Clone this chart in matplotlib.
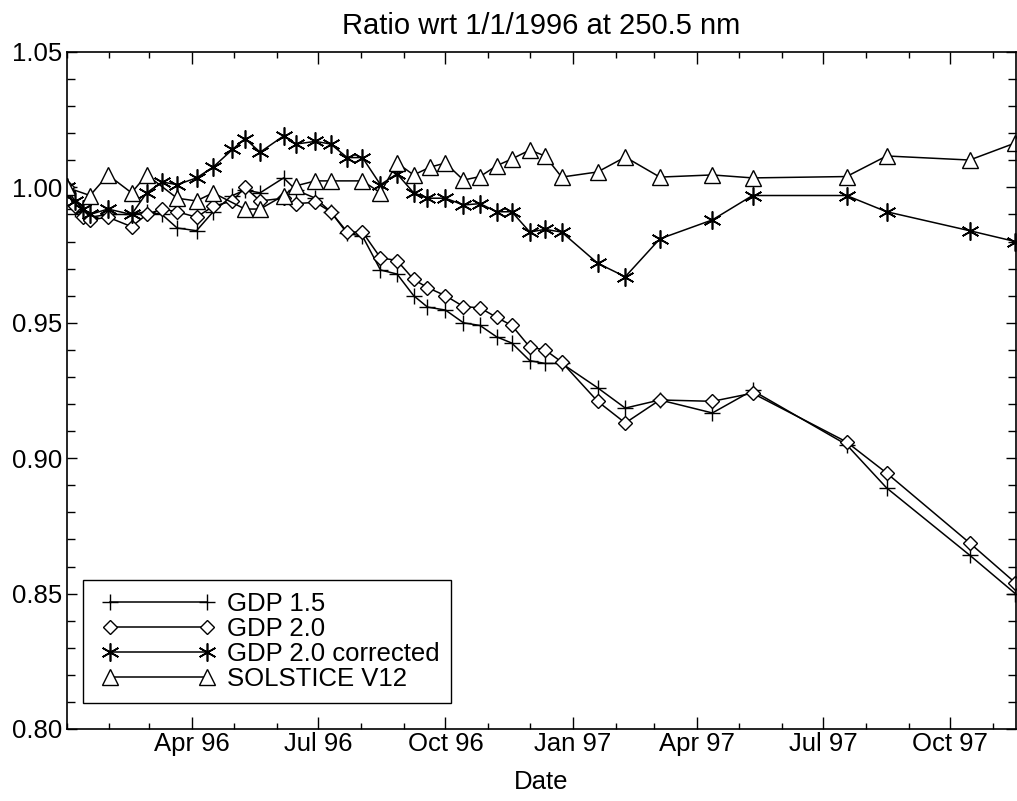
import matplotlib
matplotlib.use('Agg')
import matplotlib.pyplot as plt
import matplotlib.dates as mdates
from matplotlib.ticker import MultipleLocator, FormatStrFormatter
from matplotlib.lines import Line2D
from matplotlib.legend_handler import HandlerLine2D
import numpy as np

plt.rcParams['font.family'] = ['Liberation Sans', 'DejaVu Sans']

# ---------------- data ----------------
gdp_dates = ['1996-01-01', '1996-01-07', '1996-01-13', '1996-01-18', '1996-01-31',
             '1996-02-17', '1996-02-28', '1996-03-10', '1996-03-21', '1996-04-04',
             '1996-04-16', '1996-04-30', '1996-05-09', '1996-05-20', '1996-06-06',
             '1996-06-15', '1996-06-29', '1996-07-10', '1996-07-22', '1996-08-02',
             '1996-08-15', '1996-08-27', '1996-09-08', '1996-09-18', '1996-10-01',
             '1996-10-14', '1996-10-26', '1996-11-07', '1996-11-18', '1996-12-01',
             '1996-12-12', '1996-12-24', '1997-01-19', '1997-02-08', '1997-03-05',
             '1997-04-12', '1997-05-11', '1997-07-18', '1997-08-16', '1997-10-15',
             '1997-11-17']

gdp15 = [1.000, 0.992, 0.990, 0.989, 0.990, 0.990, 0.991, 0.990, 0.985, 0.984,
         0.991, 0.997, 0.999, 0.998, 1.0035, 0.999, 0.996, 0.991, 0.983, 0.982,
         0.9695, 0.968, 0.960, 0.9558, 0.9547, 0.950, 0.949, 0.9448, 0.9425, 0.936,
         0.935, 0.935, 0.926, 0.9185, 0.9215, 0.9167, 0.925, 0.905, 0.889, 0.8642,
         0.850]

gdp20 = [1.000, 0.993, 0.989, 0.988, 0.989, 0.9855, 0.990, 0.992, 0.991, 0.989,
         0.993, 0.995, 1.000, 0.995, 0.996, 0.994, 0.9945, 0.991, 0.9835, 0.9835,
         0.974, 0.973, 0.966, 0.963, 0.960, 0.956, 0.9555, 0.952, 0.949, 0.941,
         0.940, 0.9355, 0.921, 0.913, 0.9215, 0.921, 0.924, 0.906, 0.8945, 0.8687,
         0.854]

gdp20_corr = [1.000, 0.995, 0.992, 0.990, 0.992, 0.990, 0.998, 1.002, 1.001, 1.0035,
              1.0075, 1.014, 1.018, 1.013, 1.019, 1.016, 1.017, 1.016, 1.011, 1.011,
              1.001, 1.005, 0.998, 0.996, 0.996, 0.9935, 0.994, 0.991, 0.991, 0.9835,
              0.9845, 0.9835, 0.972, 0.967, 0.981, 0.988, 0.997, 0.997, 0.991, 0.984,
              0.980]

sol_dates = ['1996-01-01', '1996-01-18', '1996-01-31', '1996-02-17', '1996-02-28',
             '1996-03-21', '1996-04-04', '1996-04-16', '1996-05-09', '1996-05-20',
             '1996-06-06', '1996-06-15', '1996-06-29', '1996-07-10', '1996-08-02',
             '1996-08-15', '1996-08-27', '1996-09-08', '1996-09-20', '1996-10-01',
             '1996-10-14', '1996-10-26', '1996-11-07', '1996-11-18', '1996-12-01',
             '1996-12-12', '1996-12-24', '1997-01-19', '1997-02-08', '1997-03-05',
             '1997-04-12', '1997-05-11', '1997-07-18', '1997-08-16', '1997-10-15',
             '1997-11-17']

solstice = [1.000, 0.997, 1.0046, 0.998, 1.0046, 0.996, 0.995, 0.998, 0.992, 0.992,
            0.997, 1.0006, 1.0024, 1.0024, 1.0024, 0.998, 1.009, 1.0046, 1.0075, 1.009,
            1.0027, 1.004, 1.008, 1.0105, 1.0138, 1.0116, 1.0038, 1.0057, 1.0112, 1.0038,
            1.0046, 1.0035, 1.004, 1.0116, 1.0101, 1.0164]

tick_dates = ['1996-04-01', '1996-07-01', '1996-10-01', '1997-01-01',
              '1997-04-01', '1997-07-01', '1997-10-01']
tick_labels = ['Apr 96', 'Jul 96', 'Oct 96', 'Jan 97', 'Apr 97', 'Jul 97', 'Oct 97']

series_names = ['GDP 1.5', 'GDP 2.0', 'GDP 2.0 corrected', 'SOLSTICE V12']

# ---------------- plot ----------------
gd = np.array(gdp_dates, dtype='datetime64[D]')
sd = np.array(sol_dates, dtype='datetime64[D]')

FS = 18.5

fig = plt.figure(figsize=(10.17, 8.01), dpi=100)
ax = fig.add_axes([0.0654, 0.0899, 0.9336, 0.8452])

lw = 1.1
ax.plot(gd, gdp15, color='black', lw=lw, marker='+', ms=12, mew=1.0,
        label=series_names[0])
ax.plot(gd, gdp20, color='black', lw=lw, marker='D', ms=7, mew=1.0,
        mfc='white', mec='black', label=series_names[1])
ax.plot(gd, gdp20_corr, color='black', lw=lw, marker=(6, 2, 0), ms=13, mew=1.2,
        label=series_names[2])
ax.plot(sd, solstice, color='black', lw=lw, marker='^', ms=11, mew=1.0,
        mfc='white', mec='black', label=series_names[3])

ax.set_xlim(np.datetime64('1996-01-01'), np.datetime64('1997-11-17T12:00'))
ax.set_ylim(0.80, 1.05)

ax.set_xticks(np.array(tick_dates, dtype='datetime64[D]'))
ax.set_xticklabels(tick_labels)
ax.xaxis.set_minor_locator(mdates.MonthLocator())
ax.yaxis.set_major_locator(MultipleLocator(0.05))
ax.yaxis.set_minor_locator(MultipleLocator(0.01))
ax.yaxis.set_major_formatter(FormatStrFormatter('%.2f'))

ax.tick_params(which='both', direction='in', top=True, right=True,
               labelsize=FS, width=1.0)
ax.tick_params(axis='x', which='major', length=8.6, pad=2)
ax.tick_params(axis='x', which='minor', length=4.3)
ax.tick_params(axis='y', which='major', length=7.5, pad=3)
ax.tick_params(axis='y', which='minor', length=6)
for s in ax.spines.values():
    s.set_linewidth(1.2)

ax.set_title('Ratio wrt 1/1/1996 at 250.5 nm', fontsize=21, pad=13)
ax.set_xlabel('Date', fontsize=FS, labelpad=10)

leg = ax.legend(loc='lower left', fontsize=FS, numpoints=2, handlelength=4.97,
                fancybox=False, framealpha=1, edgecolor='black',
                borderpad=0.45, labelspacing=0.05, handletextpad=0.18,
                borderaxespad=0.0, bbox_to_anchor=(0.0174, 0.0384),
                handler_map={Line2D: HandlerLine2D(marker_pad=0.6)})
leg.get_frame().set_linewidth(1.0)

fig.savefig('out.png', dpi=100)
